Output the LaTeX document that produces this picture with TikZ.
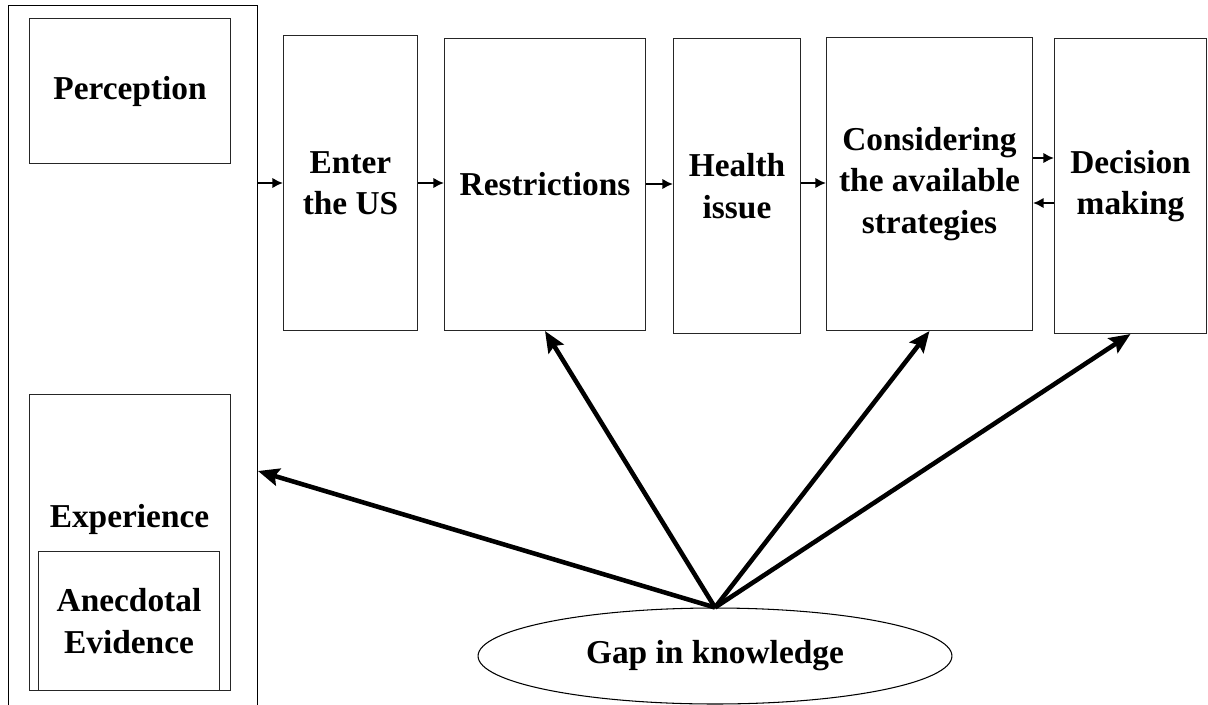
\documentclass[tikz,border=0pt]{standalone}
\usepackage{fontspec}
\setmainfont{Liberation Serif}
\usetikzlibrary{arrows.meta}
\usetikzlibrary{shapes.geometric}
\usetikzlibrary{calc}

\begin{document}
\begin{tikzpicture}[x=0.02cm, y=-0.02cm,
	box/.style={draw=black!85, line width=0.6pt, inner sep=0pt, anchor=north west, align=center, font=\fontsize{19}{23.5}\selectfont\bfseries},
	lbl/.style={align=center, inner sep=0pt, font=\fontsize{19}{23.5}\selectfont\bfseries},
	smallarrow/.style={-{Latex[length=6pt,width=6pt]}, line width=1.3pt},
	bigarrow/.style={-{Stealth[length=12pt,width=10pt,inset=2pt]}, line width=2.6pt}]
	\useasboundingbox (0,0) rectangle (1208,704);
	%left column
	\node[box, draw=black, minimum width=4.98cm, minimum height=14.4cm] (frame) at (8,5) {};
	\node[box, minimum width=4.02cm, minimum height=2.9cm] (perc) at (29,18) {Perception};
	\node[box, minimum width=4.02cm, minimum height=5.92cm] (exper) at (29,394) {};
	\node[lbl] (experText) at (129.5,519) {Experience};
	\node[box, minimum width=3.62cm, minimum height=2.78cm] (anec) at (38,551) {Anecdotal\\Evidence};
	%process boxes
	\node[box, minimum width=2.68cm, minimum height=5.9cm] (enter) at (283,35) {Enter\\the US};
	\node[box, minimum width=4.02cm, minimum height=5.84cm] (restr) at (444,38) {Restrictions};
	\node[box, minimum width=2.54cm, minimum height=5.9cm] (health) at (673,38) {Health\\issue};
	\node[box, minimum width=4.12cm, minimum height=5.86cm] (consid) at (826,37) {Considering\\the available\\strategies};
	\node[box, minimum width=3.04cm, minimum height=5.9cm] (decis) at (1054,38) {Decision\\making};
	%gap
	\node[ellipse, draw, line width=0.6pt, minimum width=9.48cm, minimum height=1.92cm, font=\fontsize{19}{23.5}\selectfont\bfseries] (gap) at (715,656) {Gap in knowledge};
	%small arrows
	\draw[smallarrow] (frame.east |- 0,183) -- (enter.west |- 0,183);
	\draw[smallarrow] (enter.east |- 0,183) -- (restr.west |- 0,183);
	\draw[smallarrow] (restr.east |- 0,184) -- (health.west |- 0,184);
	\draw[smallarrow] (health.east |- 0,183) -- (consid.west |- 0,183);
	\draw[smallarrow] (consid.east |- 0,158) -- (decis.west |- 0,158);
	\draw[smallarrow] (decis.west |- 0,203) -- (consid.east |- 0,203);
	%arrows from the gap
	\coordinate (frameIn) at (frame.east |- 0,471);
	\draw[bigarrow] (gap.north) -- (frameIn);
	\draw[bigarrow] (gap.north) -- (restr.south);
	\draw[bigarrow] (gap.north) -- (consid.south);
	\draw[bigarrow] (gap.north) -- (decis.south);
\end{tikzpicture}
\end{document}
